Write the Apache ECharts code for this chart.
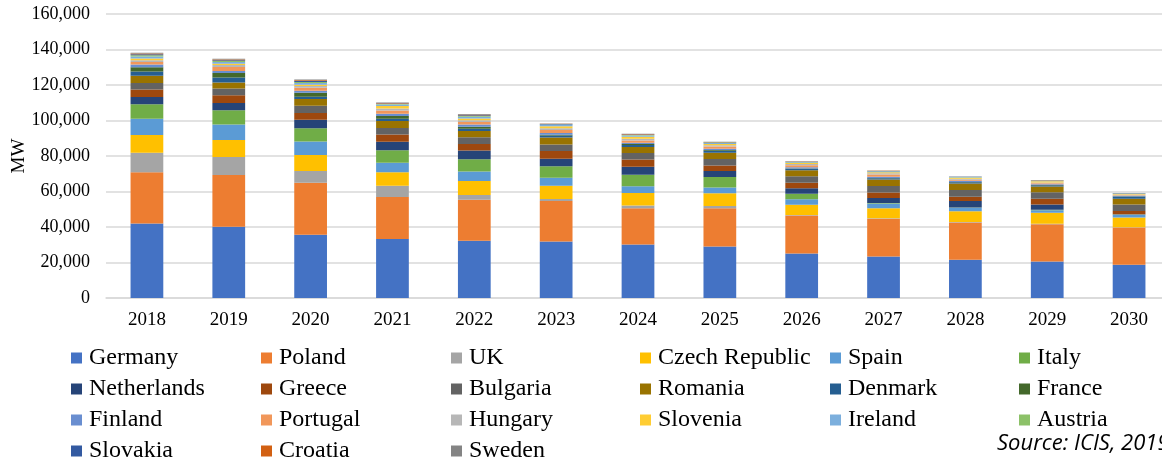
<!DOCTYPE html>
<html>
<head>
<meta charset="utf-8">
<script src="https://cdn.jsdelivr.net/npm/echarts@6/dist/echarts.min.js"></script>
<style>
  html, body { margin: 0; padding: 0; background: #fff; }
  #chart { width: 1162px; height: 464px; }
</style>
</head>
<body>
<div id="chart"></div>
<script>
// capacity by country, MW, 2018..2030
const years = ["2018", "2019", "2020", "2021", "2022", "2023", "2024", "2025", "2026", "2027", "2028", "2029", "2030"];
const yTicks = [0, 20000, 40000, 60000, 80000, 100000, 120000, 140000, 160000];

const germany     = [42000, 40100, 35600, 33300, 32200, 31800, 30100, 29000, 25100, 23400, 21500, 20600, 18700];
const poland      = [28900, 29200, 29400, 23600, 23200, 22900, 20500, 21600, 21400, 21200, 21000, 21000, 21000];
const uk          = [11000, 10100, 6600, 6400, 2600, 1100, 1500, 1300, 300, 300, 300, 300, 200];
const czech       = [9900, 9600, 9000, 7500, 7900, 7500, 7000, 7100, 5800, 5700, 6100, 6100, 5500];
const spain       = [9200, 8800, 7500, 5400, 5400, 4500, 3900, 3200, 3000, 2600, 1900, 1500, 1500];
const italy       = [8200, 8000, 7500, 7100, 6900, 6400, 6400, 6000, 3200, 300, 200, 200, 100];
const netherlands = [4100, 4100, 4800, 4700, 4900, 4300, 4500, 3400, 3000, 2900, 3600, 3000, 200];
const greece      = [4100, 4300, 3800, 4100, 3700, 4300, 4100, 3000, 3200, 3000, 2400, 3200, 1800];
const bulgaria    = [3700, 3800, 4100, 3700, 3700, 3700, 3700, 3700, 3600, 3700, 3900, 3700, 3700];
const romania     = [4100, 3400, 3800, 3900, 3600, 3900, 3400, 3600, 3400, 3600, 3600, 3200, 3200];
const denmark     = [2400, 2800, 1300, 1300, 1300, 1100, 1100, 1100, 700, 700, 700, 700, 1300];
const france      = [2400, 2600, 2200, 1500, 1100, 500, 500, 400, 300, 200, 200, 150, 100];
const finland     = [1500, 1100, 1100, 1300, 1300, 1000, 700, 700, 700, 700, 600, 500, 300];
const portugal    = [1500, 2200, 1700, 1900, 1300, 1700, 1300, 1300, 1100, 1300, 600, 450, 350];
const hungary     = [1000, 1100, 1000, 1100, 1000, 1000, 1000, 700, 700, 700, 550, 450, 300];
const slovenia    = [1000, 800, 700, 1300, 1000, 1000, 1100, 700, 550, 550, 550, 700, 300];
const ireland     = [1100, 900, 1000, 900, 1000, 900, 700, 550, 400, 400, 350, 300, 200];
const austria     = [600, 600, 600, 300, 400, 200, 300, 200, 150, 150, 100, 150, 100];
const slovakia    = [600, 500, 600, 300, 400, 200, 300, 200, 150, 150, 100, 150, 100];
const croatia     = [400, 400, 400, 250, 350, 150, 250, 150, 130, 130, 90, 100, 80];
const sweden      = [400, 400, 400, 250, 350, 150, 250, 150, 130, 130, 90, 70, 80];

const countries = [
  ["Germany", germany, "#4472C4"],
  ["Poland", poland, "#ED7D31"],
  ["UK", uk, "#A5A5A5"],
  ["Czech Republic", czech, "#FFC000"],
  ["Spain", spain, "#5B9BD5"],
  ["Italy", italy, "#70AD47"],
  ["Netherlands", netherlands, "#264478"],
  ["Greece", greece, "#9E480E"],
  ["Bulgaria", bulgaria, "#636363"],
  ["Romania", romania, "#997300"],
  ["Denmark", denmark, "#255E91"],
  ["France", france, "#43682B"],
  ["Finland", finland, "#698ED0"],
  ["Portugal", portugal, "#F1975A"],
  ["Hungary", hungary, "#B7B7B7"],
  ["Slovenia", slovenia, "#FFCD33"],
  ["Ireland", ireland, "#7CAFDD"],
  ["Austria", austria, "#8CC168"],
  ["Slovakia", slovakia, "#335AA1"],
  ["Croatia", croatia, "#D26012"],
  ["Sweden", sweden, "#848484"],
];

const serif = "'Liberation Serif', 'Times New Roman', serif";

// legend laid out as 6 columns, filled row by row like the original
const legendCols = [71, 261, 451, 640, 830, 1019];
const legends = legendCols.map((x, col) => ({
  orient: "vertical",
  left: x,
  top: 346,
  padding: 0,
  itemWidth: 11,
  itemHeight: 11,
  itemGap: 7,
  icon: "rect",
  selectedMode: false,
  textStyle: { fontFamily: serif, fontSize: 24, lineHeight: 24, color: "#000", padding: [0, 0, 0, 2] },
  data: countries.filter((c, i) => i % 6 === col).map(c => c[0]),
}));

const chart = echarts.init(document.getElementById("chart"));

chart.setOption({
  animation: false,
  backgroundColor: "#fff",
  legend: legends,
  grid: { left: 106, right: -8, top: 14, bottom: 166, outerBoundsMode: "none", containLabel: false },
  xAxis: {
    type: "category",
    data: years,
    axisTick: { show: false },
    axisLine: { lineStyle: { color: "#D9D9D9", width: 1.5 } },
    axisLabel: { fontFamily: serif, fontSize: 19, color: "#000", margin: 13 },
  },
  yAxis: {
    type: "value",
    min: yTicks[0],
    max: yTicks[yTicks.length - 1],
    interval: yTicks[1] - yTicks[0],
    name: "MW",
    nameLocation: "middle",
    nameGap: 77,
    nameMoveOverlap: false,
    nameTextStyle: { fontFamily: serif, fontSize: 19, color: "#000" },
    axisLine: { show: false },
    axisTick: { show: false },
    axisLabel: {
      fontFamily: serif, fontSize: 18, color: "#000", margin: 16,
      formatter: v => v.toLocaleString("en-US"),
    },
    splitLine: { lineStyle: { color: "#D9D9D9", width: 1.5 } },
  },
  graphic: [{
    type: "text",
    left: 997,
    top: 433,
    style: {
      text: "Source: ICIS, 2019",
      font: "italic 22px 'Open Sans', sans-serif",
      fill: "#000",
    },
  }],
  series: countries.map(([name, data, color]) => ({
    name,
    type: "bar",
    stack: "total",
    data,
    barWidth: "40%",
    itemStyle: { color },
  })),
});
</script>
</body>
</html>
